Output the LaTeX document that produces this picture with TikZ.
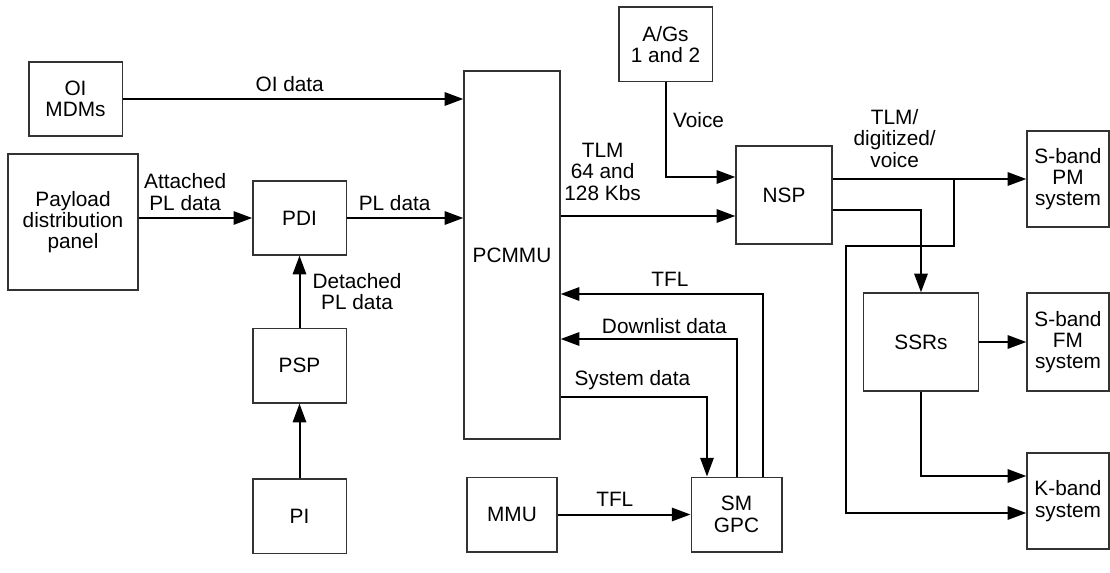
\documentclass[tikz,border=0pt]{standalone}
\usepackage{fontspec}
\setmainfont{Liberation Sans}
\usepackage{tikz}
\usetikzlibrary{arrows.meta,positioning,calc}
\definecolor{bdGray}{HTML}{333333}

\begin{document}
\begin{tikzpicture}[
  x=0.75pt,y=-0.75pt,
  box/.style={draw=bdGray,line width=1pt,align=center,inner sep=0pt,
    font=\fontsize{15.6}{16}\selectfont},
  arrow/.style={-{Triangle[length=14pt,width=10pt]},line width=1.5pt},
  lbl/.style={above,inner sep=5pt,align=center,font=\fontsize{15.6}{16}\selectfont}
]
\useasboundingbox (0,0) rectangle (1110,573);
% boxes
\node[box,minimum width=70pt,minimum height=55.5pt] (oimdm) at (75.5,99) {OI\\MDMs};
\node[box,minimum width=97.5pt,minimum height=102pt] (panel) at (73,222) {Payload\\distribution\\panel};
\node[box,minimum width=70pt,minimum height=55.5pt] (pdi) at (299.5,218) {PDI};
\node[box,minimum width=70pt,minimum height=56pt,below=54pt of pdi] (psp) {PSP};
\node[box,minimum width=70pt,minimum height=56pt,below=56pt of psp] (pi) {PI};
\node[box,minimum width=72pt,minimum height=276pt] (pcmmu) at (512,255) {PCMMU};
\node[box,minimum width=70pt,minimum height=56pt] (ags) at (665.5,44.5) {A/Gs\\1 and 2};
\node[box,minimum width=72pt,minimum height=73.5pt] (nsp) at (784,195) {NSP};
\node[box,minimum width=67.5pt,minimum height=56pt] (mmu) at (512,514.5) {MMU};
\node[box,minimum width=68pt,minimum height=56pt] (smgpc) at (736.5,514.5) {SM\\GPC};
\node[box,minimum width=86pt,minimum height=73.5pt] (ssrs) at (921,342) {SSRs};
\node[box,minimum width=61.5pt,minimum height=72pt] (sbpm) at (1068,179) {S-band\\PM\\system};
\node[box,minimum width=61.5pt,minimum height=73.5pt] (sbfm) at (1068,342) {S-band\\FM\\system};
\node[box,minimum width=61.5pt,minimum height=72pt] (kband) at (1068,501) {K-band\\system};

% connection points
\coordinate (tlm) at ($(nsp.west)+(0,21)$);
\coordinate (voice) at ($(nsp.west)+(0,-18)$);
\coordinate (nspout) at ($(nsp.east)+(0,-16)$);
\coordinate (nspout2) at ($(nsp.east)+(0,15)$);
\coordinate (jct) at (954,179);
\coordinate (loop) at (846,246);
\coordinate (kin1) at ($(kband.west)+(0,-25)$);
\coordinate (kin2) at ($(kband.west)+(0,12)$);
\coordinate (sysout) at ($(pcmmu.east)+(0,142)$);
\coordinate (sysin) at ($(smgpc.north)+(-29.5,0)$);
\coordinate (dlout) at ($(pcmmu.east)+(0,84)$);
\coordinate (tflout) at ($(smgpc.north)+(26.5,0)$);
\coordinate (tflin) at ($(pcmmu.east)+(0,39)$);

% connectors
\draw[arrow] (oimdm.east) -- (oimdm.east -| pcmmu.west) node[lbl,pos=.49] {OI data};
\draw[arrow] (pdi.west -| panel.east) -- (pdi.west) node[lbl,pos=.41] {Attached\\PL data};
\draw[arrow] (pdi.east) -- (pdi.east -| pcmmu.west) node[lbl,pos=.41] {PL data};
\draw[arrow] (psp) -- (pdi) node[lbl,right,inner sep=9pt,midway] {Detached\\PL data};
\draw[arrow] (pi) -- (psp);
\draw[arrow] (pcmmu.east |- tlm) -- (tlm) node[lbl,pos=.24,yshift=6pt] {TLM\\64 and\\128 Kbs};
\draw[arrow] (ags) |- (voice) node[lbl,right,pos=.2] {Voice};
\draw[arrow] (nspout) -- (nspout -| sbpm.west) node[lbl,pos=.32,yshift=3pt] {TLM/\\digitized/\\voice};
\draw[arrow] (jct) |- (loop) |- (kin2);
\draw[arrow] (nspout2) -| (ssrs.north);
\draw[arrow] (ssrs) -- (sbfm);
\draw[arrow] (ssrs.south) |- (kin1);
\draw[arrow] (mmu) -- (smgpc) node[lbl,pos=.43] {TFL};
\draw[arrow] (sysout) -| (sysin) node[lbl,pos=.245] {System data};
\draw[arrow] (smgpc.north) |- (dlout) node[lbl,pos=.705,inner sep=3pt] {Downlist data};
\draw[arrow] (tflout) |- (tflin) node[lbl,pos=.73] {TFL};
\end{tikzpicture}
\end{document}
